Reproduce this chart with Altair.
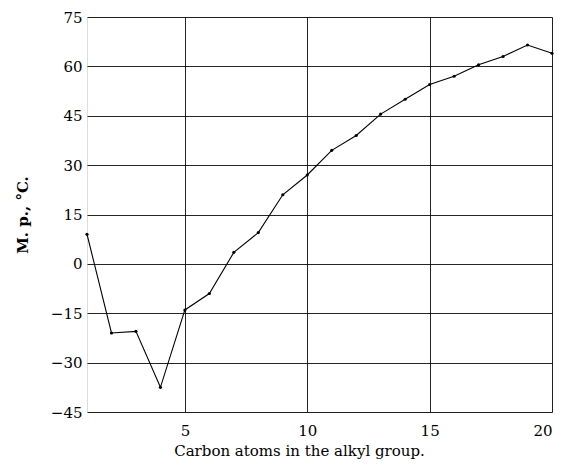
import altair as alt
import pandas as pd

carbons = list(range(1, 21))
melting_points = [9, -21, -20.5, -37.5, -14, -9, 3.5, 9.5, 21, 27, 34.5, 39, 45.5, 50, 54.5, 57, 60.5, 63, 66.5, 64]

df = pd.DataFrame({"c": carbons, "mp": melting_points})

font = "DejaVu Serif"

x = alt.X("c:Q", scale=alt.Scale(domain=[1, 20], nice=False, zero=False),
          axis=alt.Axis(values=[5, 10, 15, 20], title="Carbon atoms in the alkyl group.",
                        grid=True, gridColor="black", gridOpacity=0.85, gridWidth=1,
                        domain=False, ticks=False, labelPadding=11,
                        labelFont=font, labelFontSize=15, labelColor="black",
                        titleFont=font, titleFontSize=15, titleFontWeight="normal",
                        titleColor="black", titlePadding=5, titleX=212))
y = alt.Y("mp:Q", scale=alt.Scale(domain=[-45, 75], nice=False, zero=False),
          axis=alt.Axis(values=[-45, -30, -15, 0, 15, 30, 45, 60, 75], title="M. p., °C.",
                        grid=True, gridColor="black", gridOpacity=0.85, gridWidth=1,
                        domain=False, ticks=False, labelPadding=5,
                        labelFont=font, labelFontSize=15, labelColor="black",
                        titleFont=font, titleFontSize=15, titleFontWeight="bold",
                        titleColor="black", titlePadding=20))

line = alt.Chart(df).mark_line(color="black", strokeWidth=1.1).encode(x=x, y=y)
pts = alt.Chart(df).mark_point(filled=True, color="black", size=10, opacity=1).encode(x="c:Q", y="mp:Q")

chart = (line + pts).properties(
    width=465, height=395,
    autosize=alt.AutoSizeParams(type="none"),
    padding={"left": 79, "top": 9, "right": 4, "bottom": 48},
).configure_view(stroke="black", strokeWidth=2).configure(background="white")

chart.save("out.html", embed_options={"renderer": "svg", "actions": False})
